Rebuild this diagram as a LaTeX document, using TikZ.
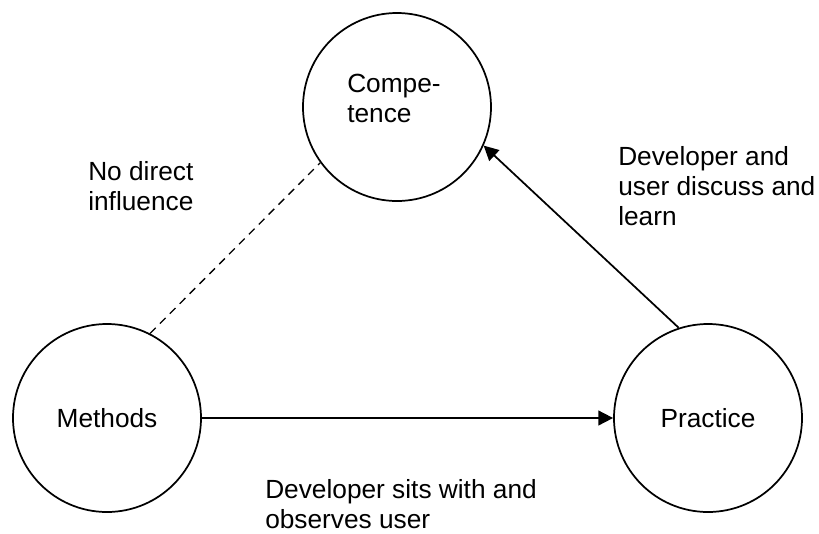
\documentclass[tikz,border=0pt]{standalone}
\usepackage{fontspec}
\setmainfont{Liberation Sans}
\usetikzlibrary{arrows.meta}
\begin{document}
\begin{tikzpicture}[x=0.75pt,y=-0.75pt,
  txt/.style={font=\fontsize{19.7}{22.5}\selectfont},
  bubble/.style={circle,draw,line width=1.3pt,minimum size=141pt,inner sep=0pt,txt},
  note/.style={txt,align=left,anchor=north west,inner sep=0pt},
  link/.style={line width=1.3pt,-{Triangle[length=11pt,width=11pt]}},
  nolink/.style={line width=1pt,dash pattern=on 6pt off 4.5pt}]
\useasboundingbox (0,0) rectangle (819,533);

% the three areas
\node[bubble] (c) at (397,107) {};
\node[note] (ct) at (347,74) {Compe-\\tence};
\node[bubble] (m) at (107,418) {Methods};
\node[bubble] (p) at (708,418) {Practice};

% connectors
\draw[nolink] (m.63) -- (c.216);
\draw[link] (m) -- (p);
\draw[link] (p.108) -- (c.-24);

% connector notes
\node[note] (l1) at (88,161) {No direct\\influence};
\node[note] (l2) at (618,146) {Developer and\\user discuss and\\learn};
\node[note] (l3) at (265,479) {Developer sits with and\\observes user};
\end{tikzpicture}
\end{document}
